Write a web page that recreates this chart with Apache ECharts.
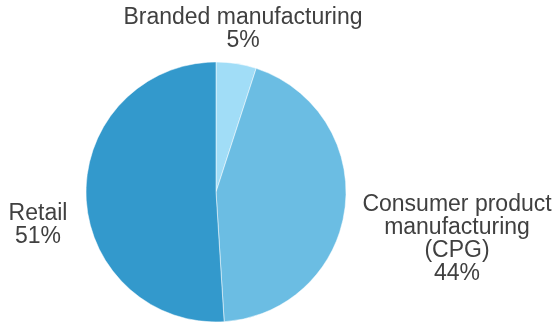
<!DOCTYPE html>
<html><head><meta charset="utf-8">
<script src="https://cdn.jsdelivr.net/npm/echarts@6/dist/echarts.min.js"></script>
<style>html,body{margin:0;padding:0;background:#fff}#c{width:556px;height:324px}</style>
</head><body><div id="c"></div>
<script>
const categories = ['Branded manufacturing', 'Consumer product\nmanufacturing\n(CPG)', 'Retail'];
const values = [5, 44, 51];
const colors = ['#a1ddf7', '#6bbde3', '#3399cc'];
const labelSpots = [[243, 29], [457, 239], [38, 225]];

const chart = echarts.init(document.getElementById('c'));
chart.setOption({
  animation: false,
  series: [{
    type: 'pie',
    center: [216, 192],
    radius: [0, 130],
    startAngle: 90,
    clockwise: true,
    avoidLabelOverlap: false,
    data: categories.map((n, i) => ({ name: n, value: values[i], itemStyle: { color: colors[i] } })),
    itemStyle: { borderColor: '#ffffff', borderWidth: 0.5 },
    label: {
      show: true,
      position: 'outside',
      formatter: p => p.name + '\n' + p.value + '%',
      fontFamily: 'Liberation Sans, Arial, sans-serif',
      fontSize: 23,
      lineHeight: 23,
      color: '#404040',
      align: 'center',
      overflow: 'none',
      width: 400
    },
    labelLine: { show: false },
    labelLayout: function (params) {
      const s = labelSpots[params.dataIndex];
      return { x: s[0], y: s[1], align: 'center', verticalAlign: 'middle', hideOverlap: false };
    }
  }]
});
</script></body></html>
